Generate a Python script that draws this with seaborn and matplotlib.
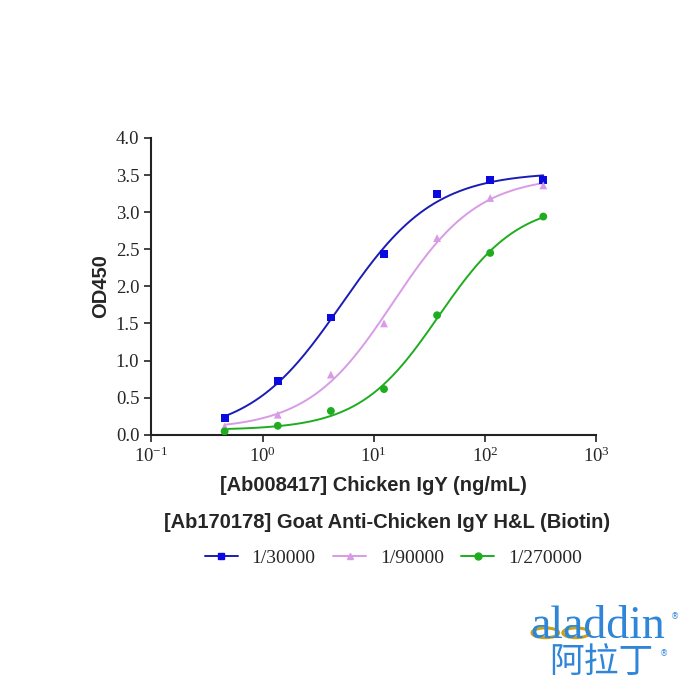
import numpy as np
import pandas as pd
import matplotlib
matplotlib.use('Agg')
import matplotlib.pyplot as plt
from matplotlib.lines import Line2D
from matplotlib.patches import Ellipse
import seaborn as sns

# concentrations (ng/mL), 3-fold dilution series
conc = [0.457, 1.372, 4.115, 12.35, 37.04, 111.1, 333.3]
od_30000 = [0.23, 0.72, 1.58, 2.43, 3.24, 3.43, 3.43]
od_90000 = [0.11, 0.27, 0.81, 1.50, 2.65, 3.19, 3.36]
od_270000 = [0.045, 0.12, 0.32, 0.615, 1.61, 2.45, 2.94]
series_names = ['1/30000', '1/90000', '1/270000']
colors = ['#0a0ae0', '#d89be6', '#1fad1f']
line_colors = ['#1c1cb4', '#d89be6', '#1fad1f']
markers = ['s', '^', 'o']
x_ticks = [0.1, 1, 10, 100, 1000]
x_ticklabels = ['10$^{-1}$', '10$^{0}$', '10$^{1}$', '10$^{2}$', '10$^{3}$']


def fit_4pl(x, y):
    # simple Levenberg-Marquardt fit of a 4-parameter logistic on log10(x)
    lx = np.log10(x)
    y = np.asarray(y)

    def f(p, t):
        return p[3] + (p[0] - p[3]) / (1 + 10 ** (p[1] * (t - p[2])))

    p = np.array([y.min(), 1.0, np.median(lx), y.max()])
    lam = 1e-2
    for _ in range(400):
        r = y - f(p, lx)
        J = np.empty((len(lx), 4))
        for k in range(4):
            dp = np.zeros(4)
            dp[k] = 1e-6
            J[:, k] = (f(p + dp, lx) - f(p - dp, lx)) / 2e-6
        A = J.T @ J
        g = J.T @ r
        step = np.linalg.solve(A + lam * np.diag(np.diag(A)) + 1e-12 * np.eye(4), g)
        new = p + step
        if np.sum((y - f(new, lx)) ** 2) < np.sum(r ** 2):
            p = new
            lam *= 0.3
        else:
            lam *= 10
    return lambda xx: f(p, np.log10(xx))


sns.set_style('ticks')
plt.rcParams['font.family'] = ['Liberation Serif', 'DejaVu Sans']
plt.rcParams['mathtext.fontset'] = 'custom'
plt.rcParams['mathtext.rm'] = 'Liberation Serif'
plt.rcParams['mathtext.it'] = 'Liberation Serif:italic'

fig = plt.figure(figsize=(7, 7), dpi=100)
ax = fig.add_axes([0.216, 0.379, 0.636, 0.424])

rows = []
curves = []
for name, vals in zip(series_names, [od_30000, od_90000, od_270000]):
    for c, v in zip(conc, vals):
        rows.append({'conc': c, 'od': v, 'dilution': name})
    fit = fit_4pl(np.array(conc), vals)
    xs = np.logspace(np.log10(conc[0]), np.log10(conc[-1]), 200)
    curves.append(pd.DataFrame({'conc': xs, 'od': fit(xs), 'dilution': name}))
df = pd.DataFrame(rows)
curve_df = pd.concat(curves)

sns.lineplot(data=curve_df, x='conc', y='od', hue='dilution',
             palette=dict(zip(series_names, line_colors)), linewidth=1.4,
             legend=False, ax=ax)
sns.scatterplot(data=df, x='conc', y='od', hue='dilution', style='dilution',
                palette=dict(zip(series_names, colors)),
                markers=dict(zip(series_names, markers)), s=32,
                edgecolor='none', legend=False, ax=ax, zorder=3)

ax.set_xscale('log')
ax.set_xlim(0.1, 1000)
ax.set_ylim(0, 4.0)
ax.set_xticks(x_ticks)
ax.set_xticklabels(x_ticklabels)
ax.xaxis.set_minor_locator(matplotlib.ticker.NullLocator())
ax.set_yticks(np.arange(0, 4.01, 0.5))
ax.set_yticklabels([f'{v:.1f}' for v in np.arange(0, 4.01, 0.5)])
ax.tick_params(axis='both', labelsize=13.5, length=5, width=1.2, direction='out', color='#222222')
sns.despine(ax=ax)
for s in ['left', 'bottom']:
    ax.spines[s].set_linewidth(1.5)
    ax.spines[s].set_color('#222222')

ax.set_xlabel('[Ab008417] Chicken IgY (ng/mL)', fontsize=14.5, fontweight='bold',
              family='Liberation Sans', labelpad=7)
ax.set_ylabel('OD450', fontsize=14.5, fontweight='bold', family='Liberation Sans', labelpad=4)

fig.text(0.553, 0.254, '[Ab170178] Goat Anti-Chicken IgY H&L (Biotin)', ha='center', va='center',
         fontsize=14.5, fontweight='bold', family='Liberation Sans')

handles = [Line2D([0], [0], color=lc, marker=m, markersize=5, markerfacecolor=c,
                  markeredgecolor=c, linewidth=1.4)
           for lc, c, m in zip(line_colors, colors, markers)]
fig.legend(handles, series_names, loc='center', bbox_to_anchor=(0.562, 0.203), ncol=3,
           frameon=False, fontsize=14, handlelength=1.7, columnspacing=0.9, handletextpad=0.7)

# logo
logo_blue = '#2f86d8'
fig.text(0.757, 0.089, 'aladdin', fontsize=33, color=logo_blue, family='Liberation Serif',
         ha='left', va='baseline')
fig.text(0.964, 0.119, '®', fontsize=6, color=logo_blue, family='DejaVu Sans',
         ha='center', va='center')
fig.text(0.785, 0.053, '阿拉丁', fontsize=25, color=logo_blue, family='Noto Sans CJK SC',
         ha='left', va='center')
fig.text(0.948, 0.066, '®', fontsize=6, color=logo_blue, family='DejaVu Sans',
         ha='center', va='center')
for ex in [0.779, 0.823]:
    fig.add_artist(Ellipse((ex, 0.096), 0.038, 0.014, transform=fig.transFigure,
                           fill=False, edgecolor='#c9a21a', linewidth=2.2))

fig.savefig('out.png', dpi=100)
